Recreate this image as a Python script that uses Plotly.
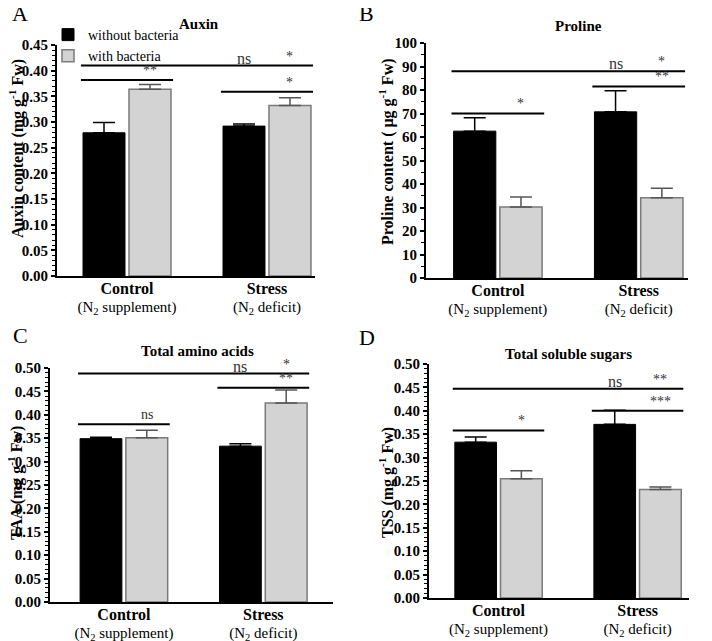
import plotly.graph_objects as go

# Data
groups = ["Control", "Stress"]
group_labels = [
    "<span style='font-size:16px'><b>Control</b></span><br>"
    "<span style='font-size:15px'>(N<sub>2</sub> supplement)</span>",
    "<span style='font-size:16px'><b>Stress</b></span><br>"
    "<span style='font-size:15px'>(N<sub>2</sub> deficit)</span>",
]

auxin_without = [0.279, 0.292]
auxin_without_err = [0.020, 0.004]
auxin_with = [0.364, 0.332]
auxin_with_err = [0.009, 0.015]

proline_without = [62.5, 70.7]
proline_without_err = [5.7, 9.0]
proline_with = [30.2, 34.2]
proline_with_err = [4.3, 4.0]

taa_without = [0.349, 0.333]
taa_without_err = [0.003, 0.005]
taa_with = [0.351, 0.425]
taa_with_err = [0.016, 0.028]

tss_without = [0.333, 0.371]
tss_without_err = [0.011, 0.030]
tss_with = [0.255, 0.232]
tss_with_err = [0.017, 0.005]

# significance brackets: (level, span, label over stress-black, label over grey bar)
auxin_sig = [(0.410, "all", "ns", "*"), (0.382, "Control", None, "**"), (0.359, "Stress", None, "*")]
proline_sig = [(88, "all", "ns", "*"), (81.5, "Stress", None, "**"), (70, "Control", None, "*")]
taa_sig = [(0.488, "all", "ns", "*"), (0.458, "Stress", None, "**"), (0.380, "Control", None, "ns")]
tss_sig = [(0.447, "all", "ns", "**"), (0.400, "Stress", None, "***"), (0.358, "Control", None, "*")]

# the page body adds an 8px margin, so the figure starts 8px in from the window corner
PAD = 8
W, H = 712 - PAD, 641 - PAD
FONT = "Liberation Serif"
BLACK = "#000000"
GREY = "#d3d3d3"
GREY_EDGE = "#7a7a7a"


def px(x):
    return (x - PAD) / W


def py(y):
    return 1 - (y - PAD) / H


panels = [
    dict(without=auxin_without, without_err=auxin_without_err, with_=auxin_with, with_err=auxin_with_err,
         sig=auxin_sig, title="Auxin", ytitle="<b>Auxin content (mg g<sup>-1</sup> Fw)</b>",
         xdom=[px(57), px(315)], ydom=[py(276), py(45)], xr=[-0.5, 1.343], yr=[0, 0.45],
         dtick=0.05, minor=0.01, fmt=".2f", letter="A", lpos=(20, 13), tpos=(199, 24), ypos=(17, 149)),
    dict(without=proline_without, without_err=proline_without_err, with_=proline_with, with_err=proline_with_err,
         sig=proline_sig, title="Proline", ytitle="<b>Proline content ( \u03bcg g<sup>-1</sup> Fw)</b>",
         xdom=[px(426), px(688)], ydom=[py(278), py(43)], xr=[-0.51, 1.35], yr=[0, 100],
         dtick=10, minor=5, fmt="d", letter="B", lpos=(366, 13), tpos=(578, 26), ypos=(386, 152)),
    dict(without=taa_without, without_err=taa_without_err, with_=taa_with, with_err=taa_with_err,
         sig=taa_sig, title="Total amino acids", ytitle="<b>TAA (mg g<sup>-1</sup> Fw)</b>",
         xdom=[px(50), px(333)], ydom=[py(602), py(368)], xr=[-0.53, 1.5], yr=[0, 0.5],
         dtick=0.05, minor=0.01, fmt=".2f", letter="C", lpos=(20, 335), tpos=(197, 351), ypos=(15, 483)),
    dict(without=tss_without, without_err=tss_without_err, with_=tss_with, with_err=tss_with_err,
         sig=tss_sig, title="Total soluble sugars", ytitle="<b>TSS (mg g<sup>-1</sup> Fw)</b>",
         xdom=[px(429), px(689)], ydom=[py(598), py(364)], xr=[-0.5, 1.37], yr=[0, 0.5],
         dtick=0.05, minor=0.01, fmt=".2f", letter="D", lpos=(367, 337), tpos=(568, 354), ypos=(386, 483)),
]

fig = go.Figure()
annotations = []
shapes = []

# bar geometry in category units (matches bargap / bargroupgap below)
half_group = 0.329
off = 0.164

for i, p in enumerate(panels):
    n = "" if i == 0 else str(i + 1)
    xa, ya = "x" + n, "y" + n
    fig.add_trace(go.Bar(
        x=groups, y=p["without"], name="without bacteria", showlegend=(i == 0),
        marker=dict(color=BLACK, line=dict(color=BLACK, width=1)),
        error_y=dict(type="data", symmetric=False, array=p["without_err"], arrayminus=[0, 0],
                     color=BLACK, thickness=1.5, width=11),
        xaxis=xa, yaxis=ya,
    ))
    fig.add_trace(go.Bar(
        x=groups, y=p["with_"], name="with bacteria", showlegend=(i == 0),
        marker=dict(color=GREY, line=dict(color=GREY_EDGE, width=1.5)),
        error_y=dict(type="data", symmetric=False, array=p["with_err"], arrayminus=[0, 0],
                     color="#555555", thickness=1.5, width=11),
        xaxis=xa, yaxis=ya,
    ))

    xkey = "xaxis" + n
    ykey = "yaxis" + n
    fig.update_layout(**{
        xkey: dict(domain=p["xdom"], range=p["xr"], type="category", anchor=ya, automargin=False,
                   tickvals=groups, ticktext=group_labels, ticks="",
                   showline=True, linecolor=BLACK, linewidth=2,
                   tickfont=dict(family=FONT, size=13.5, color=BLACK), showgrid=False),
        ykey: dict(domain=p["ydom"], range=p["yr"], anchor=xa, dtick=p["dtick"], tickformat=p["fmt"],
                   automargin=False,
                   showline=True, linecolor=BLACK, linewidth=2, ticks="outside", ticklen=4,
                   tickwidth=2, tickcolor=BLACK, showgrid=False, zeroline=False,
                   minor=dict(dtick=p["minor"], ticks="outside", ticklen=3, tickwidth=1, tickcolor=BLACK),
                   tickfont=dict(family=FONT, size=15, color=BLACK, weight="bold")),
    })

    # significance brackets
    for level, span, lab_mid, lab_right in p["sig"]:
        if span == "all":
            x0, x1 = -half_group, 1 + half_group
        elif span == "Control":
            x0, x1 = -half_group, half_group
        else:
            x0, x1 = 1 - half_group, 1 + half_group
        shapes.append(dict(type="line", xref=xa, yref=ya, x0=x0, x1=x1, y0=level, y1=level,
                           line=dict(color=BLACK, width=2)))
        right_x = off if span == "Control" else 1 + off
        annotations.append(dict(x=right_x, y=level, xref=xa, yref=ya, text=lab_right, showarrow=False,
                                xanchor="center", yanchor="bottom",
                                font=dict(family=FONT, size=14, color="#333333")))
        if lab_mid:
            annotations.append(dict(x=1 - off, y=level, xref=xa, yref=ya, text=lab_mid, showarrow=False,
                                    xanchor="center", yanchor="bottom", yshift=-3,
                                    font=dict(family=FONT, size=16, color="#333333")))

    annotations.append(dict(x=px(p["ypos"][0]), y=py(p["ypos"][1]), xref="paper", yref="paper",
                            text=p["ytitle"], showarrow=False, textangle=-90,
                            xanchor="center", yanchor="middle",
                            font=dict(family=FONT, size=16, color=BLACK)))
    annotations.append(dict(x=px(p["tpos"][0]), y=py(p["tpos"][1]), xref="paper", yref="paper",
                            text="<b>" + p["title"] + "</b>", showarrow=False,
                            xanchor="center", yanchor="middle",
                            font=dict(family=FONT, size=15, color=BLACK)))
    annotations.append(dict(x=px(p["lpos"][0]), y=py(p["lpos"][1]), xref="paper", yref="paper",
                            text=p["letter"], showarrow=False, xanchor="center", yanchor="middle",
                            font=dict(family=FONT, size=22, color=BLACK)))

fig.update_layout(
    width=W, height=H,
    margin=dict(l=0, r=0, t=0, b=0),
    paper_bgcolor="white", plot_bgcolor="white",
    barmode="group", bargap=0.343, bargroupgap=0.087,
    font=dict(family=FONT, color=BLACK),
    legend=dict(x=px(48), y=py(19), xanchor="left", yanchor="top",
                font=dict(family=FONT, size=14, color=BLACK), bgcolor="rgba(0,0,0,0)",
                tracegroupgap=0, itemwidth=30),
    annotations=annotations,
    shapes=shapes,
)

fig.write_html("out.html")
